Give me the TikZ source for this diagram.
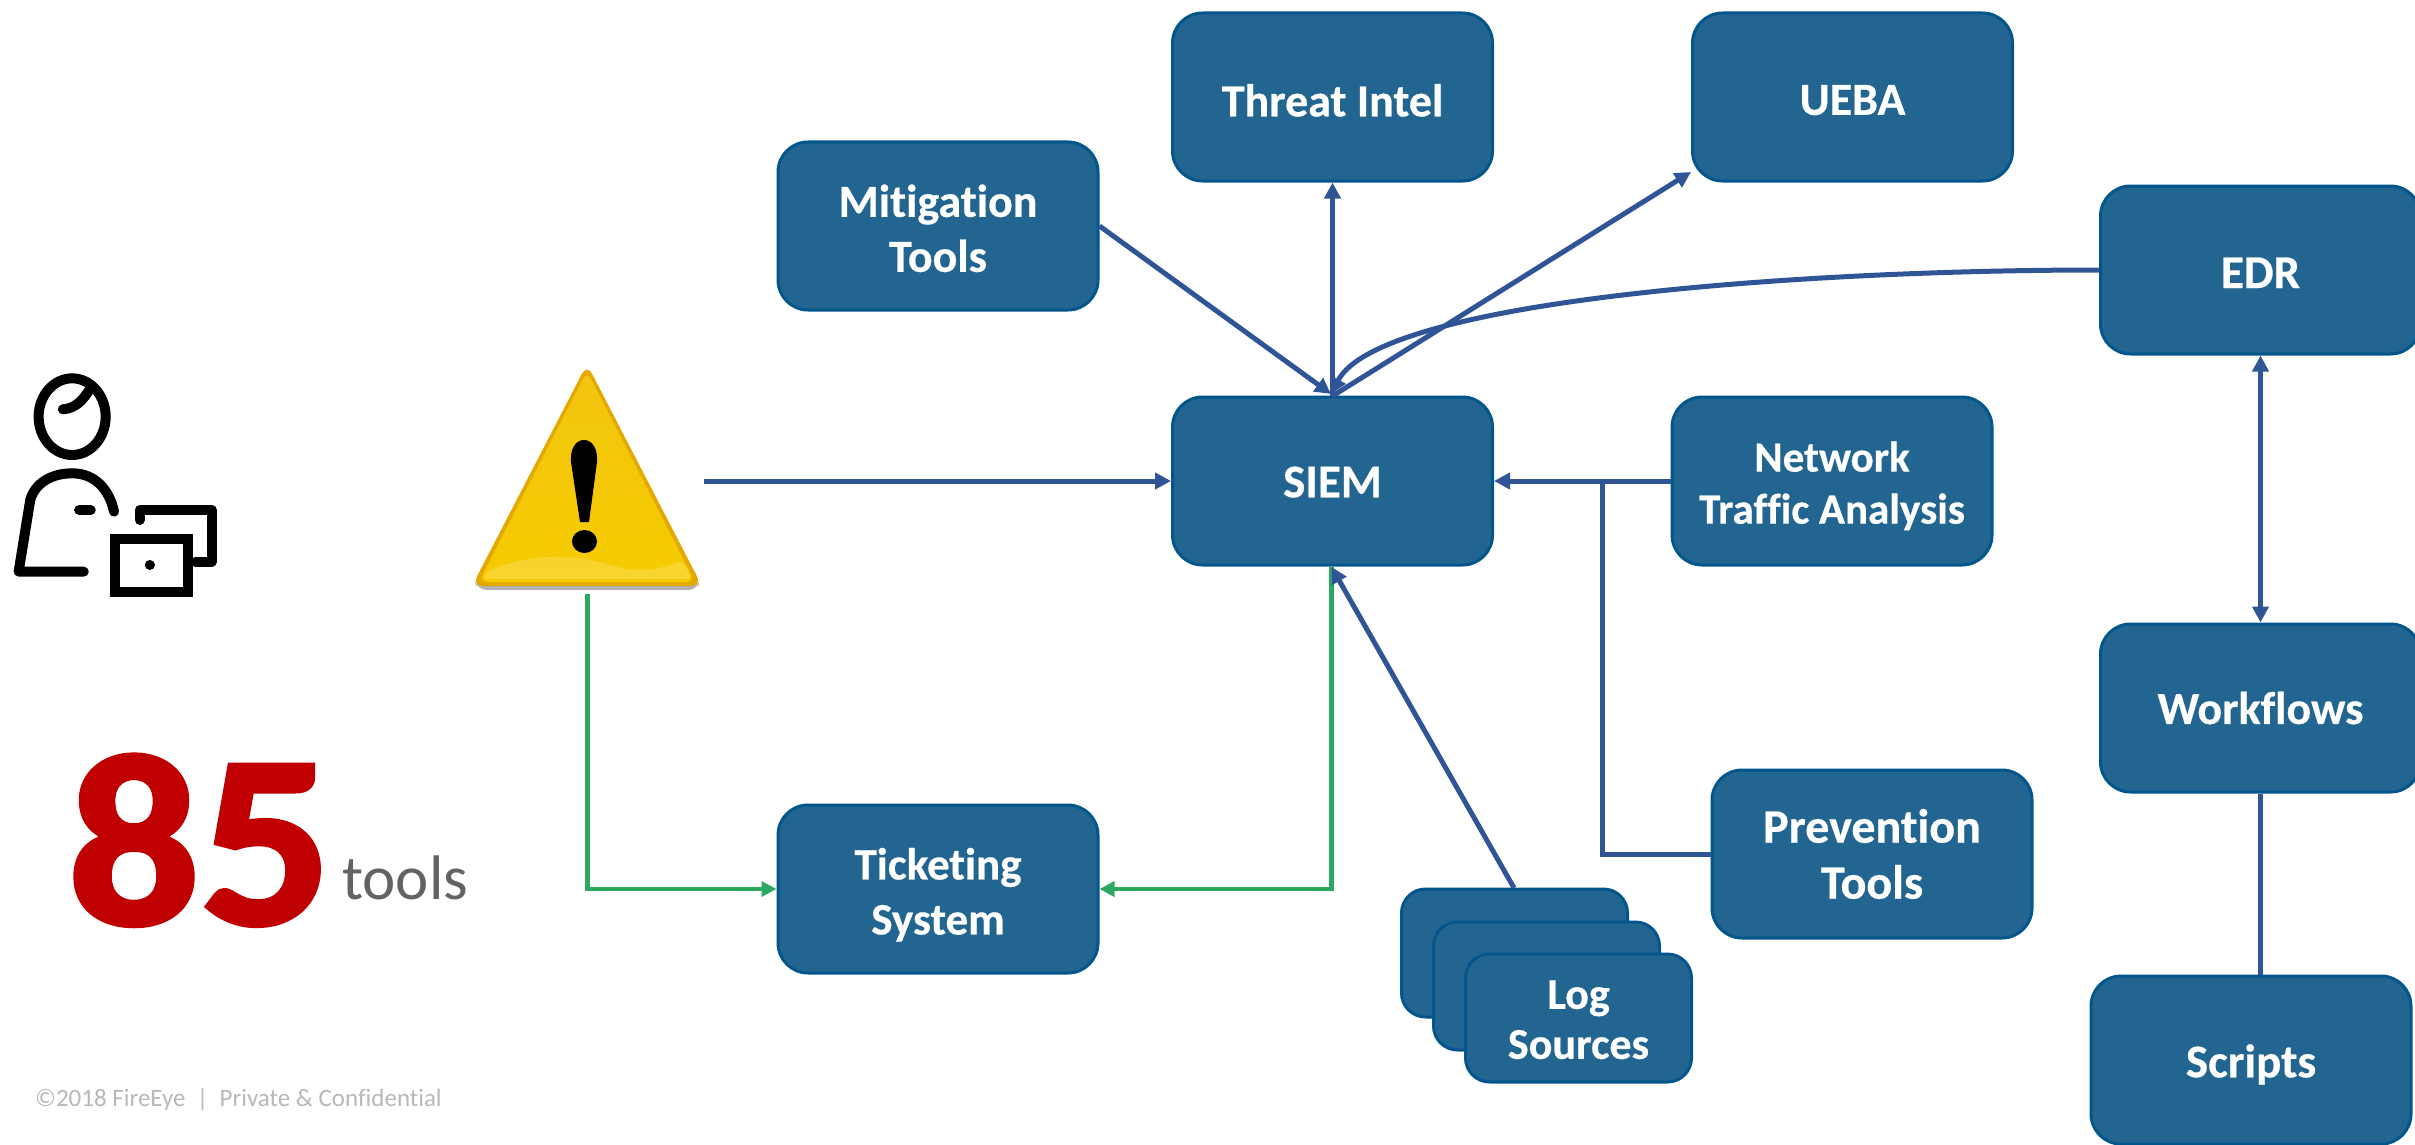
\documentclass[tikz,border=0pt]{standalone}
\usepackage{fontspec}
\setmainfont{Carlito}[Ligatures=NoCommon,BoldFeatures={FakeBold=0.5}]
\newfontface\heavyface{Carlito Bold}[FakeBold=2]
\usetikzlibrary{arrows.meta,calc}
\definecolor{boxfill}{HTML}{236591}
\definecolor{boxline}{HTML}{03568C}
\definecolor{linkblue}{HTML}{2F5597}
\definecolor{linkgreen}{HTML}{2CA860}
\definecolor{bigred}{HTML}{C00000}
\definecolor{toolgrey}{HTML}{636363}
\definecolor{footgrey}{HTML}{B8B8B8}
\definecolor{warnrim}{HTML}{E4A900}
\definecolor{warntop}{HTML}{F2C50F}
\definecolor{warnmid}{HTML}{FBD80A}
\definecolor{warnbot}{HTML}{F6CB00}
\newcommand{\up}[1]{\rule{0pt}{#1pt}}
\tikzset{
 bigbox/.style={draw=boxline,fill=boxfill,line width=3pt,rounded corners=30pt,minimum width=320pt,minimum height=168pt,inner sep=0pt,align=center,text=white,font=\fontsize{46}{55}\selectfont\bfseries},
 logbox/.style={bigbox,minimum width=226pt,minimum height=128pt,rounded corners=24pt},
 boxsize/.style 2 args={font=\fontsize{#1}{#2}\selectfont\bfseries},
 link/.style={draw=linkblue,line width=5pt,-{Triangle[length=16pt,width=16pt]}},
 plain/.style={draw=linkblue,line width=5pt},
 both/.style={draw=linkblue,line width=5pt,{Triangle[length=16pt,width=16pt]}-{Triangle[length=16pt,width=16pt]}},
 glink/.style={draw=linkgreen,line width=4.5pt,-{Triangle[length=15pt,width=15pt]}},
 icon/.style={draw=black,line width=10pt,line cap=round,line join=round},
}
\begin{document}
\begin{tikzpicture}[x=1pt,y=-1pt]
\useasboundingbox (0,0) rectangle (2415,1145);
% boxes
\node[bigbox] (threat) at (1332.5,97) {\up{39}Threat Intel};
\node[bigbox] (ueba) at (1852.5,97) {\up{36}UEBA};
\node[bigbox] (mitig) at (938,226) {\up{37}Mitigation\\Tools};
\node[bigbox,boxsize={47}{55}] (edr) at (2260.5,270) {\up{36}EDR};
\node[bigbox,boxsize={47}{55}] (siem) at (1332.5,481) {\up{33}SIEM};
\node[bigbox,boxsize={43}{52}] (nta) at (1832,481) {\up{40}Network\\Traffic Analysis};
\node[bigbox] (work) at (2260.5,708) {Workflows};
\node[bigbox,boxsize={48}{56}] (prev) at (1872,854) {Prevention\\Tools};
\node[bigbox,boxsize={45}{55}] (tick) at (938,889) {\up{43}Ticketing\\System};
\node[bigbox,boxsize={47}{55}] (scripts) at (2251,1060) {\up{42}Scripts};
\node[logbox] (logc) at (1514.5,953) {};
\node[logbox] (logb) at (1546.5,986) {};
\node[logbox,boxsize={44}{50}] (loga) at (1578.5,1018) {\up{32}Log\\Sources};
% warning triangle
\fill[black!55,rounded corners=10pt,opacity=.55] (474,578) -- (700,578) -- (698,590) -- (477,590) -- cycle;
\fill[rounded corners=11pt,fill=warnrim] (587,364) -- (702,586) -- (472,586) -- cycle;
\shade[rounded corners=9pt,top color=warntop,middle color=warnmid,bottom color=warnbot] (587,371) -- (695,582) -- (479,582) -- cycle;
\fill[white,opacity=.18,rounded corners=6pt] (489,570) .. controls (530,555) and (570,553) .. (610,565) .. controls (640,573) and (665,568) .. (682,560) -- (692,579) -- (482,579) -- cycle;
\fill[black] (584,440) .. controls (575,440) and (570,450) .. (571,462) -- (580,522) -- (589,522) -- (597,462) .. controls (598,450) and (593,440) .. (584,440) -- cycle;
\fill[black] (584.5,541.5) ellipse (12.5pt and 11.5pt);
\coordinate (warnr) at (704,481);
\coordinate (warnb) at (587.5,594);
\coordinate (mitigend) at (1331,394);
\coordinate (siemtop) at (1332.5,396);
\coordinate (uebaleft) at (1691,172);
\coordinate (logtop) at (1514,888);
\coordinate (siembot) at (1331.5,567);
\coordinate (bend) at (1602,854);
\coordinate (tee) at (1602,481);
% connectors
\draw[glink] (siembot) -- (siembot |- tick.east) -- (tick.east);
\draw[glink] (warnb) -- (warnb |- tick.west) -- (tick.west);
\draw[link] (warnr) -- (siem.west);
\draw[link] (mitig.east) -- (mitigend);
\draw[link] (siemtop) -- (threat.south);
\draw[link] (siemtop) -- (uebaleft);
\draw[link] (edr.west) .. controls (1800,270) and (1380,300) .. (mitigend);
\draw[link] (nta.west) -- (siem.east);
\draw[plain] (prev.west) -- (bend) -- (tee);
\draw[link] (logtop) -- (siembot);
\draw[both] (edr.south) -- (work.north);
\draw[plain] (work.south) -- (work.south |- scripts.north);
% person icon
\begin{scope}[shift={(0,340)},x=0.4655pt,y=-0.3333pt]
\draw[icon] (155,230) ellipse (72 and 115);
\draw[icon] (135,208) .. controls (165,205) and (180,175) .. (192,150);
\draw[icon] (180,695) -- (40,695) -- (65,480) .. controls (75,430) and (110,400) .. (155,400) .. controls (205,400) and (235,450) .. (245,515);
\draw[icon] (170,510) -- (195,510);
\draw[icon] (300,540) -- (300,510) -- (455,510) -- (455,665) -- (420,665);
\draw[icon,line cap=butt,line join=miter] (248,597) rectangle (403,755);
\fill[black] (322,675) ellipse (11 and 15);
\end{scope}
% texts
\node[anchor=base west,inner sep=0pt,xscale=1.06,text=bigred,font=\fontsize{245}{245}\selectfont\heavyface] (num) at (68,924) {85};
\node[anchor=base west,inner sep=0pt,text=toolgrey,font=\fontsize{63}{63}\selectfont] (tools) at (342,899) {tools};
\node[anchor=base west,inner sep=0pt,text=footgrey,font=\fontsize{25}{25}\selectfont] (foot) at (35,1106) {©2018 FireEye~~|~~Private \& Confidential};
\end{tikzpicture}
\end{document}
